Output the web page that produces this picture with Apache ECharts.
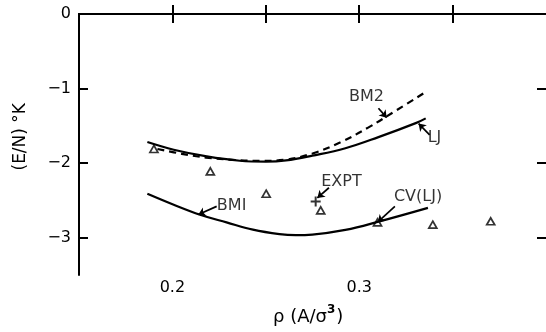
<!DOCTYPE html>
<html><head><meta charset="utf-8">
<script src="https://cdn.jsdelivr.net/npm/echarts@6/dist/echarts.min.js"></script>
<style>html,body{margin:0;padding:0;background:#fff}#c{width:546px;height:332px}</style>
</head><body><div id="c"></div>
<script>
// ---- data ----
const bm2Curve = [[0.192,-1.81],[0.205,-1.875],[0.218,-1.925],[0.232,-1.955],[0.247,-1.97],[0.26,-1.955],[0.275,-1.87],[0.29,-1.72],[0.305,-1.52],[0.32,-1.29],[0.336,-1.04]];
const ljCurve = [[0.1866,-1.717],[0.2007,-1.82],[0.2184,-1.91],[0.2361,-1.968],[0.25,-1.98],[0.2608,-1.964],[0.2749,-1.90],[0.2926,-1.80],[0.3103,-1.651],[0.3306,-1.46],[0.3356,-1.40]];
const bm1Curve = [[0.1866,-2.41],[0.2007,-2.557],[0.2148,-2.691],[0.229,-2.794],[0.2431,-2.892],[0.2573,-2.952],[0.266,-2.966],[0.2749,-2.958],[0.2926,-2.895],[0.3103,-2.785],[0.3368,-2.60]];
const cvTriangles = [[0.1901,-1.81],[0.2203,-2.11],[0.2502,-2.41],[0.2794,-2.633],[0.3098,-2.794],[0.3394,-2.825],[0.3704,-2.78]];
const exptPoint = [[0.2767,-2.515]];
const annotationTexts = ['BM2','LJ','EXPT','CV(LJ)','BMI'];
const annotationPos = [[0.3039,-1.107],[0.3403,-1.664],[0.2905,-2.254],[0.3315,-2.446],[0.2317,-2.566]];
const arrowCoords = [
  [[0.3103,-1.263],[0.3147,-1.39]],
  [[0.3377,-1.62],[0.3318,-1.47]],
  [[0.2838,-2.33],[0.2776,-2.467]],
  [[0.3191,-2.58],[0.3099,-2.79]],
  [[0.2237,-2.58],[0.2139,-2.69]]
];
const xTickValues = [0.2,0.25,0.3,0.35];
const xTickLabels = ['0.2','0.3'];
const xLabelValues = [0.2,0.3];
const yTickValues = [0,-1,-2,-3];
const yTickLabels = ['0','−1','−2','−3'];

// ---- chart ----
const FONT = '"DejaVu Sans", "Liberation Sans", sans-serif';
const chart = echarts.init(document.getElementById('c'));
const axisLine = {show:true, lineStyle:{color:'#000', width:2}};
const tick = {show:true, inside:true, length:9, lineStyle:{color:'#000', width:2}};
chart.setOption({
  animation:false,
  backgroundColor:'#fff',
  grid:{left:79, top:14, width:471, height:261, containLabel:false},
  xAxis:[
    {type:'value', position:'bottom', min:0.15, max:0.4, axisLine,
     axisTick:Object.assign({customValues:xTickValues}, tick), splitLine:{show:false},
     axisLabel:{customValues:xLabelValues, formatter:v=>xTickLabels[xLabelValues.findIndex(t=>Math.abs(t-v)<1e-9)]||'',
       color:'#000', fontSize:16, fontFamily:FONT, margin:5}},
    {type:'value', position:'top', min:0.15, max:0.4, axisLine,
     axisTick:Object.assign({customValues:xTickValues}, tick), axisLabel:{show:false}, splitLine:{show:false}}
  ],
  yAxis:[
    {type:'value', position:'left', min:-3.5, max:0, axisLine,
     axisTick:Object.assign({customValues:yTickValues}, tick), splitLine:{show:false},
     axisLabel:{customValues:yTickValues, formatter:v=>yTickLabels[yTickValues.findIndex(t=>Math.abs(t-v)<1e-9)]||'',
       color:'#000', fontSize:16, fontFamily:FONT, margin:8}},
    {type:'value', position:'right', min:-3.5, max:0, axisLine:{show:false},
     axisTick:Object.assign({customValues:yTickValues}, tick), axisLabel:{show:false}, splitLine:{show:false}}
  ],
  graphic:[
    {type:'text', left:12, top:103, rotation:Math.PI/2, style:{text:'(E/N) °K', fill:'#000', font:'17px "DejaVu Sans", sans-serif'}},
    {type:'text', x:273, y:304, style:{text:'{a|ρ (A/σ}{s|3}{a|)}', fill:'#000',
      rich:{a:{fontSize:18, fontFamily:FONT, verticalAlign:'bottom'}, s:{fontSize:12, fontFamily:FONT, fontWeight:'bold', verticalAlign:'top', padding:[0,1,10,0]}}}}
  ],
  series:[
    {type:'line', data:ljCurve, smooth:0.4, showSymbol:false, lineStyle:{color:'#000', width:2.2}},
    {type:'line', data:bm2Curve, smooth:0.4, showSymbol:false, lineStyle:{color:'#000', width:2.2, type:[7,5]}},
    {type:'line', data:bm1Curve, smooth:0.4, showSymbol:false, lineStyle:{color:'#000', width:2.2}},
    {type:'scatter', data:cvTriangles, symbol:'triangle', symbolSize:[8,7],
     itemStyle:{color:'#fff', borderColor:'#000', borderWidth:1.7}},
    {type:'scatter', data:exptPoint, symbol:'path://M4,0H6V4H10V6H6V10H4V6H0V4H4Z', symbolSize:10,
     itemStyle:{color:'#000'}},
    {type:'lines', coordinateSystem:'cartesian2d', symbol:['none','arrow'], symbolSize:7,
     lineStyle:{color:'#000', width:1.7, opacity:1},
     data:arrowCoords.map(c=>({coords:c}))},
    {type:'scatter', symbolSize:1, itemStyle:{color:'rgba(0,0,0,0)'},
     data:annotationPos.map((p,i)=>({value:p, name:annotationTexts[i]})),
     label:{show:true, position:'inside', formatter:p=>p.name, color:'#000', textBorderWidth:0, fontSize:16, fontFamily:FONT}}
  ]
});
</script></body></html>
